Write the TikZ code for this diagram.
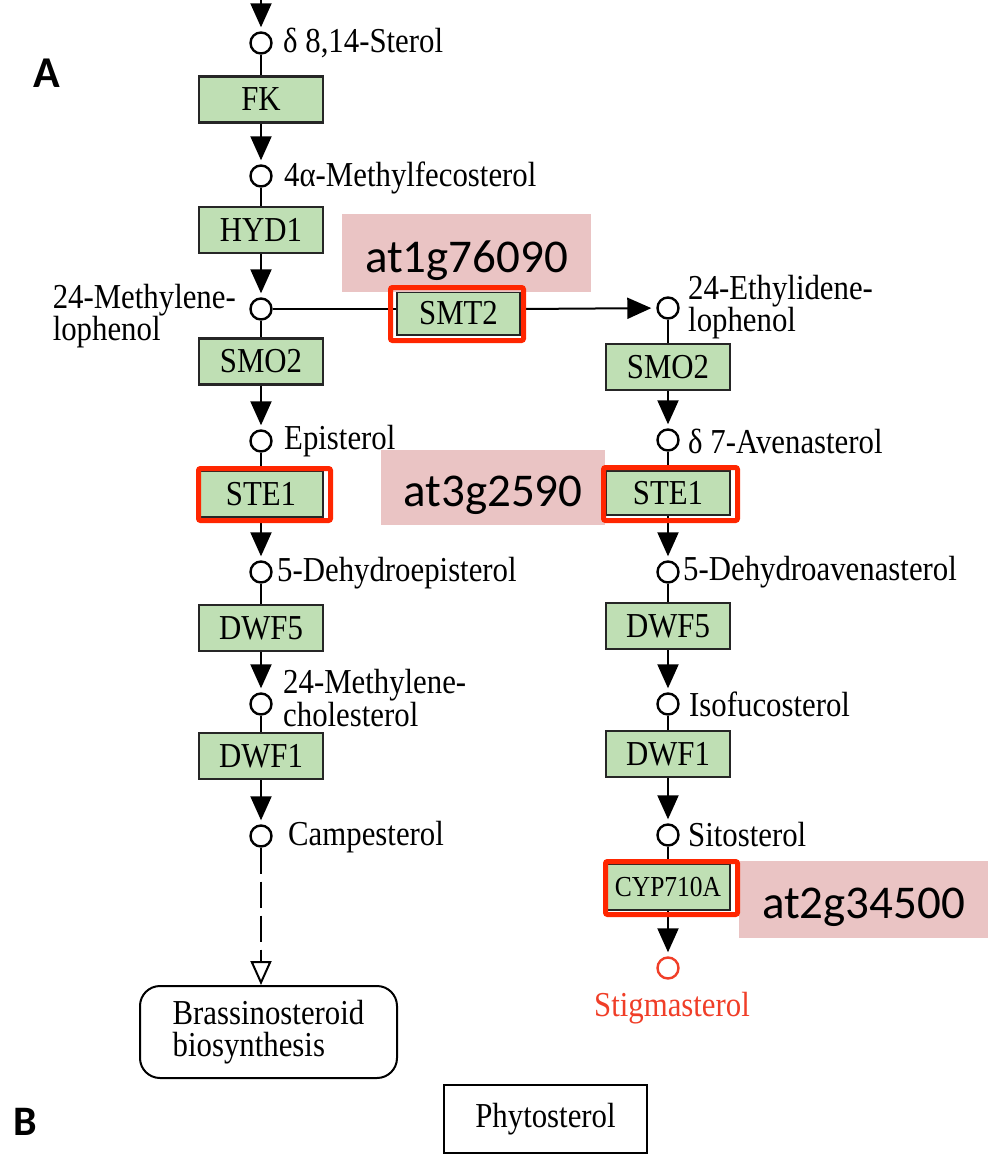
\documentclass[tikz,border=0pt]{standalone}
\usepackage{fontspec}
\setmainfont{Liberation Serif}[FakeStretch=0.88]
\newfontfamily\genefont{Carlito}
\usetikzlibrary{arrows.meta}

\definecolor{enzgreen}{RGB}{191,223,180}
\definecolor{genepink}{RGB}{234,196,196}
\definecolor{hired}{RGB}{255,38,0}
\definecolor{cpdred}{RGB}{240,62,40}

\begin{document}
\begin{tikzpicture}[x=1pt, y=-1pt,
  enz/.style={draw=black!85, line width=2.4pt, fill=enzgreen, minimum width=124, minimum height=46, inner sep=0, font=\fontsize{35}{35}\selectfont},
  cpd/.style={circle, draw, line width=2.4pt, fill=white, minimum size=21, inner sep=0},
  cpdlabel/.style={anchor=west, align=left, inner sep=0, font=\fontsize{35}{27}\selectfont},
  react/.style={line width=2pt},
  arr/.style={line width=2pt, -{Triangle[length=24pt, width=21pt]}, shorten >=4pt},
  gene/.style={fill=genepink, inner sep=0, text height=38pt, text depth=0pt, font=\genefont\fontsize{47}{47}\selectfont},
  hilite/.style={draw=hired, line width=5pt, rounded corners=2pt}
]
\useasboundingbox (0,0) rectangle (990,1154);

% Left branch: campesterol side
\coordinate (top) at (261,-2);
\node[cpd] (m1) at (261,43) {};
\node[cpdlabel] (m1l) at (283,43) {δ 8,14-Sterol};
\node[enz] (fk) at (261,99.5) {FK};
\node[cpd] (m2) at (261,176) {};
\node[cpdlabel] (m2l) at (284,178) {4α-Methylfecosterol};
\node[enz] (hyd1) at (261,230) {HYD1};
\node[cpd] (m3) at (261,309) {};
\node[cpdlabel, anchor=east] (m3l) at (236,316) {24-Methylene-\\lophenol};
\node[enz] (smo2a) at (261,361.5) {SMO2};
\node[cpd] (m4) at (261,441) {};
\node[cpdlabel] (m4l) at (284,441) {Episterol};
\node[enz] (ste1a) at (261,494) {STE1};
\node[cpd] (m5) at (261,572) {};
\node[cpdlabel] (m5l) at (277,573) {5-Dehydroepisterol};
\node[enz] (dwf5a) at (261,628) {DWF5};
\node[cpd] (m6) at (261,704) {};
\node[cpdlabel] (m6l) at (283,698) {24-Methylene-\\cholesterol};
\node[enz] (dwf1a) at (261,756) {DWF1};
\node[cpd] (m7) at (261,836) {};
\node[cpdlabel] (m7l) at (288,837) {Campesterol};
\node[draw, line width=2pt, rounded corners=20pt, minimum width=257, minimum height=92, align=left, font=\fontsize{35}{32}\selectfont] (brs) at (268.5,1032) {Brassinosteroid\\biosynthesis};

% SMT2 step across
\node[enz, minimum width=123, minimum height=43] (smt2) at (458.5,313.5) {SMT2};

% Right branch: sitosterol side
\node[cpd] (r1) at (668,308) {};
\node[cpdlabel] (r1l) at (688,307) {24-Ethylidene-\\lophenol};
\node[enz] (smo2b) at (668,367) {SMO2};
\node[cpd] (r2) at (668,440) {};
\node[cpdlabel] (r2l) at (688,441) {δ 7-Avenasterol};
\node[enz, minimum height=44] (ste1b) at (668,493) {STE1};
\node[cpd] (r3) at (668,572) {};
\node[cpdlabel] (r3l) at (683,572) {5-Dehydroavenasterol};
\node[enz] (dwf5b) at (668,626) {DWF5};
\node[cpd] (r4) at (668,704) {};
\node[cpdlabel] (r4l) at (689,704) {Isofucosterol};
\node[enz] (dwf1b) at (668,754) {DWF1};
\node[cpd] (r5) at (668,835) {};
\node[cpdlabel] (r5l) at (688,835) {Sitosterol};
\node[enz, font=\fontsize{29}{29}\selectfont] (cyp) at (668,887) {CYP710A};
\node[cpd, draw=cpdred] (r6) at (668,968) {};
\node[text=cpdred, inner sep=0, font=\fontsize{35}{35}\selectfont] (r6l) at (672,1008) {Stigmasterol};

\node[draw, line width=2.4pt, minimum width=203, minimum height=68, font=\fontsize{35}{35}\selectfont] (phy) at (545.5,1119) {Phytosterol};

% reactions
\draw[arr] (top) -- (m1);
\draw[react] (m1) -- (fk);
\draw[arr] (fk) -- (m2);
\draw[react] (m2) -- (hyd1);
\draw[arr] (hyd1) -- (m3);
\draw[react] (m3) -- (smo2a);
\draw[arr] (smo2a) -- (m4);
\draw[react] (m4) -- (ste1a);
\draw[arr] (ste1a) -- (m5);
\draw[react] (m5) -- (dwf5a);
\draw[arr] (dwf5a) -- (m6);
\draw[react] (m6) -- (dwf1a);
\draw[arr] (dwf1a) -- (m7);
\draw[line width=2pt, dash pattern=on 26pt off 8pt, -{Triangle[open, length=24pt, width=21pt, line width=2pt]}] (m7) -- (m7 |- brs.north);

\draw[react] (m3) -- (m3 -| smt2.west);
\draw[arr, shorten >=5pt] (smt2.east |- m3) -- (r1);

\draw[react] (r1) -- (smo2b);
\draw[arr] (smo2b) -- (r2);
\draw[react] (r2) -- (ste1b);
\draw[arr] (ste1b) -- (r3);
\draw[react] (r3) -- (dwf5b);
\draw[arr] (dwf5b) -- (r4);
\draw[react] (r4) -- (dwf1b);
\draw[arr] (dwf1b) -- (r5);
\draw[react] (r5) -- (cyp);
\draw[arr] (cyp) -- (r6);

% gene ids and highlights
\node[gene, minimum width=249, minimum height=78] (g1) at (466.5,253) {at1g76090};
\node[gene, minimum width=224, minimum height=75] (g2) at (493,487.5) {at3g2590};
\node[gene, minimum width=249, minimum height=77] (g3) at (863.5,899.5) {at2g34500};
\draw[hilite] (390.5,287.5) rectangle (523.5,340.5);
\draw[hilite] (198.5,468.5) rectangle (330.5,520.5);
\draw[hilite] (603.5,467.5) rectangle (737.5,520.5);
\draw[hilite] (605.5,861.5) rectangle (737.5,914.5);

% panel letters
\node[font=\genefont\bfseries\fontsize{44}{44}\selectfont] (pa) at (47,73) {A};
\node[font=\genefont\bfseries\fontsize{42}{42}\selectfont] (pb) at (25,1122) {B};
\end{tikzpicture}
\end{document}
